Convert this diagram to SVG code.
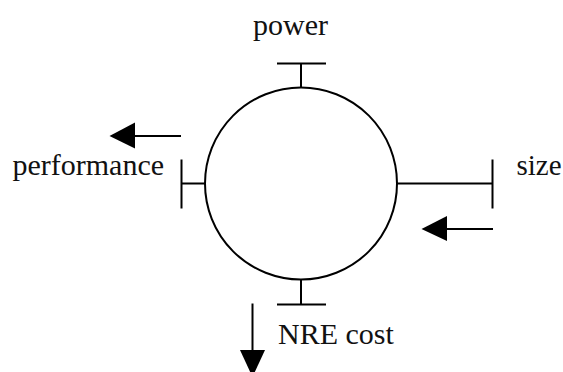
<svg xmlns="http://www.w3.org/2000/svg" width="563" height="372" viewBox="0 0 563 372">
  <style>
    .ln { stroke: #000; stroke-width: 2; fill: none; }
    .hd { fill: #000; stroke: none; }
    .lbl { font-family: "Liberation Serif", "Times New Roman", serif; font-size: 30px; fill: #111; }
  </style>
  <rect width="563" height="372" fill="#fff"/>

  <!-- central design point -->
  <g id="design">
    <circle class="ln" cx="301" cy="183.5" r="96"/>
  </g>

  <!-- axis constraint bars -->
  <g id="power">
    <path class="ln" d="M301 87.5V63.5M277 63.5H326"/>
    <text class="lbl" x="290.5" y="35" text-anchor="middle">power</text>
  </g>
  <g id="performance">
    <path class="ln" d="M205 183.5H181.5M181.5 159.5V208.5"/>
    <text class="lbl" x="12.5" y="175">performance</text>
  </g>
  <g id="size">
    <path class="ln" d="M397 183.5H492.5M492.5 159.5V208.5"/>
    <text class="lbl" x="516.5" y="175" style="font-size:29px">size</text>
  </g>
  <g id="nre-cost">
    <path class="ln" d="M301 279.5V304.5M277 304.5H326"/>
    <text class="lbl" x="278" y="344">NRE cost</text>
  </g>

  <!-- direction arrows -->
  <g id="connectors">
    <path class="ln" d="M181 136H134"/>
    <polygon class="hd" points="109.5,136 135,122.5 135,148.5"/>
    <path class="ln" d="M493 229H446"/>
    <polygon class="hd" points="421.5,229 447,216 447,241"/>
    <path class="ln" d="M252.5 303.5V351"/>
    <polygon class="hd" points="252.5,377 240,350 265,350"/>
  </g>
</svg>
